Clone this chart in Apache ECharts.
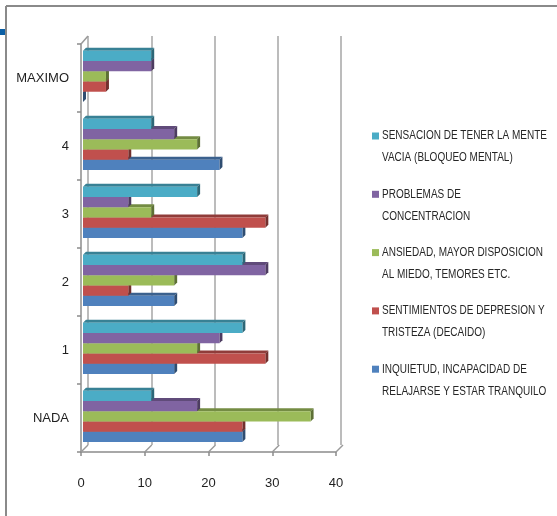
<!DOCTYPE html>
<html><head><meta charset="utf-8">
<script src="https://cdn.jsdelivr.net/npm/echarts@6/dist/echarts.min.js"></script>
<style>html,body{margin:0;padding:0;background:#fff}#c{width:557px;height:516px}</style>
</head><body><div id="c"></div>
<script>
const categories = ['NADA', '1', '2', '3', '4', 'MAXIMO'];
const xTicks = [0, 10, 20, 30, 40];
const names = [
  'INQUIETUD, INCAPACIDAD DE\nRELAJARSE Y ESTAR TRANQUILO',
  'SENTIMIENTOS DE DEPRESION Y\nTRISTEZA (DECAIDO)',
  'ANSIEDAD, MAYOR DISPOSICION\nAL MIEDO, TEMORES ETC.',
  'PROBLEMAS DE\nCONCENTRACION',
  'SENSACION DE TENER LA MENTE\nVACIA (BLOQUEO MENTAL)'
];
const inquietud     = [25, 14.3, 14.3, 25, 21.4, 0];
const depresion     = [25, 28.6, 7.1, 28.6, 7.1, 3.6];
const ansiedad      = [35.7, 17.9, 14.3, 10.7, 17.9, 3.6];
const concentracion = [17.9, 21.4, 28.6, 7.1, 14.3, 10.7];
const mente         = [10.7, 25, 25, 17.9, 10.7, 10.7];
const colors = ['#4F81BD', '#C0504D', '#9BBB59', '#8064A2', '#4BACC6'];
const allValues = [inquietud, depresion, ansiedad, concentracion, mente];

const FONT = '"Liberation Sans", Arial, sans-serif';

function shade(hex, f) {
  const n = parseInt(hex.slice(1), 16);
  const r = Math.round(((n >> 16) & 255) * f), g = Math.round(((n >> 8) & 255) * f), b = Math.round((n & 255) * f);
  return 'rgb(' + r + ',' + g + ',' + b + ')';
}

function barRenderer(s) {
  return function (params, api) {
    const v = api.value(0), ci = api.value(1);
    const p0 = api.coord([0, ci]);
    const p1 = api.coord([v, ci]);
    const band = api.size([0, 1])[1];
    const bh = band * 0.151;
    const d = 3;
    const x = p0[0] + 2;
    const w = Math.max(0, p1[0] - p0[0]);
    const bottom = p0[1] + band * 0.353 - s * bh;
    const top = bottom - bh;
    const c = colors[s];
    return {
      type: 'group',
      children: [
        { type: 'polygon', shape: { points: [[x, top], [x + d, top - d], [x + w + d, top - d], [x + w, top]] }, style: { fill: shade(c, 0.75) } },
        { type: 'polygon', shape: { points: [[x + w, top], [x + w + d, top - d], [x + w + d, bottom - d], [x + w, bottom]] }, style: { fill: shade(c, 0.6) } },
        { type: 'rect', shape: { x: x, y: top, width: w, height: bh }, style: { fill: c } }
      ]
    };
  };
}

const series = names.map((n, s) => ({
  name: n,
  type: 'custom',
  xAxisIndex: 0, yAxisIndex: 0,
  itemStyle: { color: colors[s] },
  renderItem: barRenderer(s),
  encode: { x: 0, y: 1 },
  data: allValues[s].map((v, i) => [v, i]),
  z: 5
}));

series.push({
  type: 'custom', silent: true, xAxisIndex: 0, yAxisIndex: 0, z: 2,
  encode: { x: 0 },
  data: xTicks.map(v => [v, 0]),
  renderItem: function (params, api) {
    const cs = params.coordSys;
    const p = api.coord([api.value(0), 0]);
    const bottom = cs.y + cs.height;
    const ch = [{ type: 'line', shape: { x1: p[0], y1: bottom, x2: p[0] + 7, y2: bottom - 7 }, style: { stroke: '#9a9a9a', lineWidth: 1.5 } }];
    if (api.value(0) === 0) {
      ch.push({ type: 'line', shape: { x1: cs.x, y1: cs.y, x2: cs.x + 7, y2: cs.y - 8 }, style: { stroke: '#9a9a9a', lineWidth: 1.5 } });
    }
    return { type: 'group', children: ch };
  }
});

// legend (top entry = last series), built from the names/colors arrays
const legendItems = [];
names.slice().reverse().forEach((n, i) => {
  const c = colors[names.length - 1 - i];
  const y1 = 136 + i * 58.3;
  legendItems.push({ type: 'rect', shape: { x: 372, y: y1 - 3.5, width: 7, height: 7 }, style: { fill: c } });
  legendItems.push({ type: 'text', x: 382, y: y1 - 11, scaleX: 0.8,
    style: { text: n, font: '12.5px ' + FONT, fill: '#262626', lineHeight: 22, verticalAlign: 'top', align: 'left' } });
});

const option = {
  animation: false,
  textStyle: { fontFamily: FONT },
  grid: [
    { left: 81, top: 44, width: 255, height: 408 },
    { left: 88, top: 36, width: 253, height: 409 }
  ],
  xAxis: [
    { gridIndex: 0, type: 'value', min: 0, max: 40, interval: 10,
      axisLine: { show: true, lineStyle: { color: '#8c8c8c', width: 1.5 } },
      axisTick: { show: true, length: 4, lineStyle: { color: '#8c8c8c', width: 1.5 } },
      splitLine: { show: false },
      axisLabel: { margin: 25, fontSize: 13, color: '#1f1f1f', fontFamily: FONT } },
    { gridIndex: 1, type: 'value', min: 0, max: 40, interval: 10,
      axisLine: { show: false }, axisTick: { show: false }, axisLabel: { show: false },
      splitLine: { show: true, lineStyle: { color: '#a6a6a6', width: 1.5 } } }
  ],
  yAxis: [
    { gridIndex: 0, type: 'category', data: categories,
      axisLine: { show: true, lineStyle: { color: '#8c8c8c', width: 1.5 } },
      axisTick: { show: true, length: 4, lineStyle: { color: '#8c8c8c', width: 1.5 } },
      axisLabel: { margin: 12, fontSize: 13, color: '#1f1f1f', fontFamily: FONT, padding: [4, 0, 0, 0] } },
    { gridIndex: 1, type: 'category', data: categories, show: false }
  ],
  graphic: [
    { type: 'line', shape: { x1: 6, y1: 6, x2: 557, y2: 6 }, style: { stroke: '#8a8a8a', lineWidth: 2 } },
    { type: 'line', shape: { x1: 6, y1: 6, x2: 6, y2: 516 }, style: { stroke: '#8a8a8a', lineWidth: 2 } },
    { type: 'rect', shape: { x: 0, y: 29, width: 5, height: 6 }, style: { fill: '#0b5fa5' } }
  ].concat(legendItems),
  series: series
};
echarts.init(document.getElementById('c')).setOption(option);
</script>
</body></html>
